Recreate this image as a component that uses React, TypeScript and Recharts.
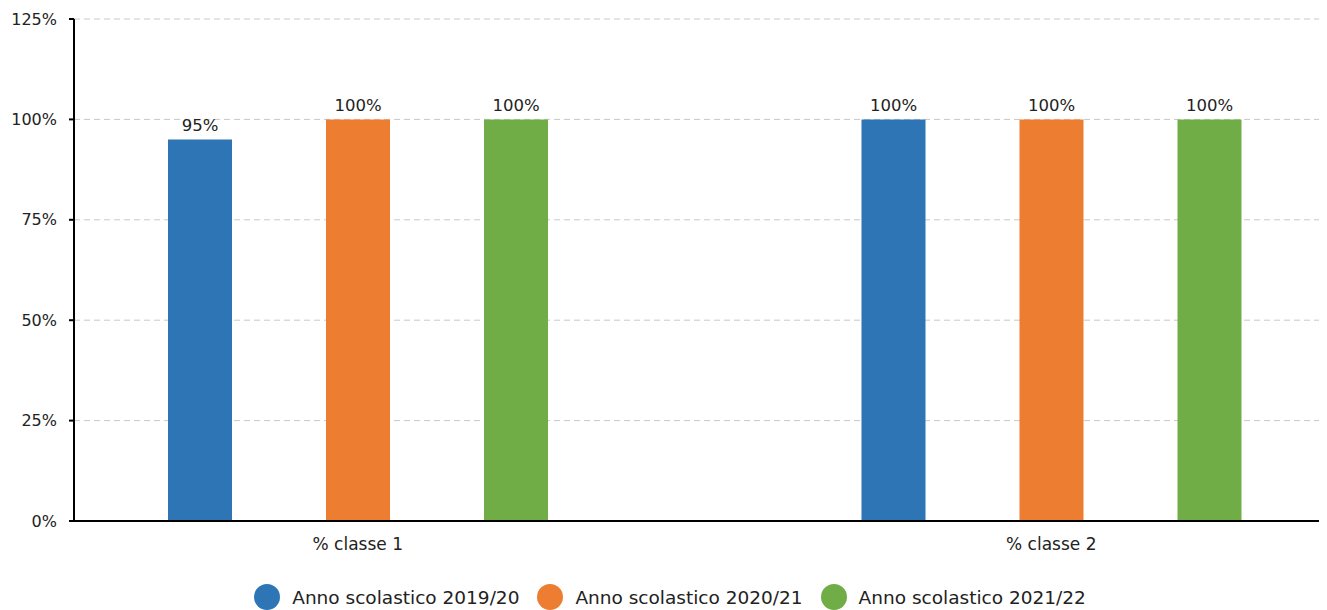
import React from "react";
import { BarChart, Bar, XAxis, YAxis, CartesianGrid, LabelList, Legend } from "recharts";

const categories = ["% classe 1", "% classe 2"];
const series2019 = [95, 100];
const series2020 = [100, 100];
const series2021 = [100, 100];
const seriesNames = ["Anno scolastico 2019/20", "Anno scolastico 2020/21", "Anno scolastico 2021/22"];
const seriesColors = ["#2E75B6", "#ED7D31", "#70AD47"];
const yTicks = [0, 25, 50, 75, 100, 125];

const data = categories.map((c, i) => ({
  name: c,
  s0: series2019[i],
  s1: series2020[i],
  s2: series2021[i],
}));

const FONT = "'DejaVu Sans', sans-serif";

const LegendContent = () => (
  <div style={{ display: "flex", justifyContent: "center", alignItems: "center", fontFamily: FONT, fontSize: 18.5, color: "#222", height: 26, paddingLeft: 7 }}>
    {seriesNames.map((n, i) => (
      <div key={n} style={{ display: "flex", alignItems: "center", marginRight: i < 2 ? 18 : 0 }}>
        <svg width={26} height={26} style={{ marginRight: 12 }}>
          <circle cx={13} cy={13} r={13} fill={seriesColors[i]} />
        </svg>
        <span>{n}</span>
      </div>
    ))}
  </div>
);

export default function App() {
  const keys = ["s0", "s1", "s2"];
  return (
    <div style={{ width: 1319, height: 602, fontFamily: FONT }}>
      <BarChart
        width={1319}
        height={602}
        data={data}
        margin={{ top: 11, right: 2, left: 0, bottom: 0 }}
        barGap={94}
        barSize={64}
      >
        <CartesianGrid vertical={false} stroke="#c8c8c8" strokeDasharray="6 4" />
        <XAxis
          dataKey="name"
          padding={{ left: -63, right: -73 }}
          tickLine={false}
          axisLine={{ stroke: "#000", strokeWidth: 2 }}
          tick={{ fill: "#222", fontSize: 17, fontFamily: FONT }}
          tickMargin={11}
          height={63}
        />
        <YAxis
          domain={[0, 125]}
          ticks={yTicks}
          tickFormatter={(v) => `${v}%`}
          width={66}
          axisLine={{ stroke: "#000", strokeWidth: 2 }}
          tickLine={{ stroke: "#000", strokeWidth: 2 }}
          tickSize={5}
          tickMargin={12}
          tick={{ fill: "#222", fontSize: 16, fontFamily: FONT }}
          interval={0}
        />
        <Legend verticalAlign="bottom" content={<LegendContent />} wrapperStyle={{ bottom: 0 }} />
        {keys.map((k, i) => (
          <Bar key={k} dataKey={k} name={seriesNames[i]} fill={seriesColors[i]} isAnimationActive={false}>
            <LabelList dataKey={k} position="top" offset={8} formatter={(v: number) => `${v}%`} style={{ fill: "#222", fontSize: 16.5, fontFamily: FONT }} />
          </Bar>
        ))}
      </BarChart>
    </div>
  );
}
